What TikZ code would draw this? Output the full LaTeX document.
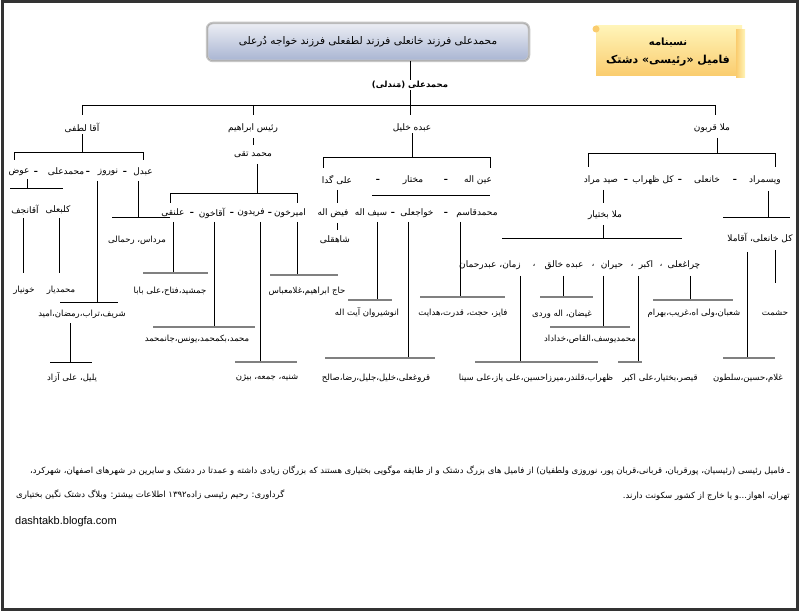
\documentclass[tikz,border=0pt]{standalone}
\usepackage{fontspec}
\setmainfont{Liberation Sans}
\newfontfamily\arabicfont[Script=Arabic]{DejaVu Sans}
\TeXXeTstate=1
\newcommand{\fa}[1]{\beginR#1\endR}
\definecolor{plaquetop}{RGB}{236,238,244}
\definecolor{plaquebot}{RGB}{168,180,210}
\definecolor{scrolltop}{RGB}{255,244,184}
\definecolor{scrollbot}{RGB}{250,204,110}
\tikzset{
  person/.style={font=\arabicfont\fontsize{9}{10}\selectfont, inner sep=1pt},
  tie/.style={font=\arabicfont\bfseries\fontsize{9}{10}\selectfont, inner sep=1pt},
  brood/.style={font=\arabicfont\fontsize{8.5}{10}\selectfont, inner sep=1pt},
  link/.style={line width=0.9pt},
  glink/.style={line width=1.3pt, draw=gray},
}

\begin{document}
\begin{tikzpicture}[x=1pt,y=-1pt]
    \useasboundingbox (0,0) rectangle (800,612);
    \fill[white] (0,0) rectangle (800,612);
    \draw[line width=3pt, draw=gray!40!black] (2,2) rectangle (797,609);

    % header
    \node[draw=gray!45, line width=2.5pt, rounded corners=6pt, minimum width=322pt, minimum height=38pt,
          top color=plaquetop, bottom color=plaquebot,
          font=\arabicfont\fontsize{10.5}{12}\selectfont] (title) at (368,42)
          {\fa{محمدعلی فرزند خانعلی فرزند لطفعلی فرزند خواجه دُرعلی}};
    \draw[gray!70, line width=0.5pt, rounded corners=5pt] ([shift={(1.5,-1.5)}]title.south west) rectangle ([shift={(-1.5,1.5)}]title.north east);
    \shade[top color=scrolltop, bottom color=scrollbot] (596,26) rectangle (742,76);
    \shade[left color=scrollbot, right color=scrolltop] (736,30) rectangle (745,78);
    \fill[scrollbot] (596,29) circle (3.5);
    \node[font=\arabicfont\bfseries\fontsize{10}{12}\selectfont] (nasab) at (668,43) {\fa{نسبنامه}};
    \node[font=\arabicfont\bfseries\fontsize{11}{13}\selectfont] (famil) at (668,61) {\fa{فامیل «رئیسی» دشتک}};

    \node[font=\arabicfont\bfseries\fontsize{8.5}{10}\selectfont, inner sep=1pt] (mandali) at (410,85) {\fa{محمدعلی (مَندلی)}};
    \draw[link] (410,61) -- (mandali.north);
    \draw[link] (mandali.south) -- (410,105);
    \draw[link] (82,105) -- (715,105);
    \foreach \x in {82,253,410,715}
        \draw[link] (\x,105) -- (\x,115);

    % sons
    \node[person] (aqa) at (82,128) {\fa{آقا لطفی}};
    \node[person] (rais) at (253,128) {\fa{رئیس ابراهیم}};
    \node[person] (abdeh) at (412,128) {\fa{عبده خلیل}};
    \node[person] (molla) at (712,128) {\fa{ملا قربون}};

    % aqa lotfi
    \draw[link] (aqa.south) -- (82,152);
    \draw[link] (14,160) -- (14,152) -- (143,152) -- (143,160);
    \node[person] (abdol) at (143,172) {\fa{عبدل}};
    \node[tie] (d1) at (125,172) {\fa{ـ}};
    \node[person] (nowruz) at (108,172) {\fa{نوروز}};
    \node[tie] (d2) at (88,172) {\fa{ـ}};
    \node[person] (mali) at (66,172) {\fa{محمدعلی}};
    \node[tie] (d3) at (36,172) {\fa{ـ}};
    \node[person] (avaz) at (19,172) {\fa{عوض}};
    \draw[link] (27,179) -- (27,188);
    \draw[link] (10,188) -- (63,188);
    \node[person] (najaf) at (25,210) {\fa{آقانجف}};
    \node[person] (kalb) at (58,210) {\fa{کلبعلی}};
    \draw[link] (23,218) -- (23,273);
    \draw[link] (59,218) -- (59,273);
    \node[brood] (khun) at (24,290) {\fa{خونیار}};
    \node[brood] (myar) at (61,290) {\fa{محمدیار}};
    \draw[link] (97,181) -- (97,302);
    \draw[link] (60,302) -- (118,302);
    \node[brood] (sharif) at (82,314) {\fa{شریف،تراب،رمضان،امید}};
    \draw[link] (70,323) -- (70,362);
    \draw[link] (50,362) -- (92,362);
    \node[brood] (yalil) at (72,378) {\fa{یلیل، علی آزاد}};
    \draw[link] (138,181) -- (138,217);
    \draw[link] (112,217) -- (170,217);
    \node[brood] (mardas) at (137,240) {\fa{مرداس، رحمالی}};

    % rais ebrahim
    \draw[link] (253,138) -- (253,145);
    \node[person] (taqi) at (253,155) {\fa{محمد تقی}};
    \draw[link] (257,164) -- (257,193);
    \draw[link] (170,203) -- (170,193) -- (297,193) -- (297,203);
    \node[person] (alnaqi) at (173,213) {\fa{علنقی}};
    \node[tie] (d4) at (192,213) {\fa{ـ}};
    \node[person] (aqakhun) at (212,213) {\fa{آقاخون}};
    \node[tie] (d5) at (232,213) {\fa{ـ}};
    \node[person] (fereydun) at (251,213) {\fa{فریدون}};
    \node[tie] (d6) at (270,213) {\fa{ـ}};
    \node[person] (amir) at (290,213) {\fa{امیرخون}};
    \draw[link] (173,222) -- (173,273);
    \draw[glink] (143,273) -- (208,273);
    \node[brood] (jamshid) at (170,291) {\fa{جمشید،فتاح،علی بابا}};
    \draw[link] (214,222) -- (214,327);
    \draw[glink] (153,327) -- (255,327);
    \node[brood] (yunes) at (197,339) {\fa{محمد،بکمحمد،یونس،جانمحمد}};
    \draw[link] (260,222) -- (260,362);
    \draw[glink] (235,362) -- (297,362);
    \node[brood] (shanbeh) at (267,378) {\fa{شنیه، جمعه، بیژن}};
    \draw[link] (297,222) -- (297,275);
    \draw[glink] (270,275) -- (338,275);
    \node[brood] (haj) at (307,291) {\fa{حاج ابراهیم،غلامعباس}};

    % abdeh khalil
    \draw[link] (abdeh.south) -- (412,157);
    \draw[link] (323,168) -- (323,157) -- (490,157) -- (490,168);
    \node[person] (einollah) at (478,180) {\fa{عین اله}};
    \node[tie] (d7) at (446,180) {\fa{ـ}};
    \node[person] (mokhtar) at (413,180) {\fa{مختار}};
    \node[tie] (d8) at (378,180) {\fa{ـ}};
    \node[person] (aligeda) at (337,180) {\fa{علی گدا}};
    \draw[link] (372,195) -- (490,195);
    \draw[link] (337,190) -- (337,203);
    \node[person] (feyz) at (333,213) {\fa{فیض اله}};
    \draw[link] (337,223) -- (337,230);
    \node[person] (shahqoli) at (335,240) {\fa{شاهقلی}};
    \node[person] (seyf) at (371,213) {\fa{سیف اله}};
    \node[tie] (d9) at (393,213) {\fa{ـ}};
    \node[person] (khajeh) at (417,213) {\fa{خواجعلی}};
    \node[tie] (d10) at (446,213) {\fa{ـ}};
    \node[person] (qasem) at (477,213) {\fa{محمدقاسم}};
    \draw[link] (377,222) -- (377,300);
    \draw[glink] (348,300) -- (392,300);
    \node[brood] (anushirvan) at (367,313) {\fa{انوشیروان  آیت اله}};
    \draw[link] (408,222) -- (408,358);
    \draw[glink] (325,358) -- (435,358);
    \node[brood] (qorugh) at (376,378) {\fa{قروغعلی،خلیل،جلیل،رضا،صالح}};
    \draw[link] (460,222) -- (460,297);
    \draw[glink] (420,297) -- (505,297);
    \node[brood] (fayez) at (463,313) {\fa{فایز، حجت، قدرت،هدایت}};

    % molla qorbun
    \draw[link] (717,138) -- (717,153);
    \draw[link] (588,167) -- (588,153) -- (775,153) -- (775,167);
    \node[person] (veys) at (765,180) {\fa{ویسمراد}};
    \node[tie] (d11) at (735,180) {\fa{ـ}};
    \node[person] (khanali) at (707,180) {\fa{خانعلی}};
    \node[tie] (d12) at (680,180) {\fa{ـ}};
    \node[person] (kolzohrab) at (653,180) {\fa{کل ظهراب}};
    \node[tie] (d13) at (626,180) {\fa{ـ}};
    \node[person] (seyd) at (601,180) {\fa{صید مراد}};
    \draw[link] (603,190) -- (603,203);
    \node[person] (bakhtiar) at (605,215) {\fa{ملا بختیار}};
    \draw[link] (603,225) -- (603,238);
    \draw[link] (502,238) -- (682,238);
    \node[person] (abdrahman) at (490,265) {\fa{زمان، عبدرحمان}};
    \node[person] (c1) at (534,265) {\fa{،}};
    \node[person] (khaleq) at (564,265) {\fa{عبده خالق}};
    \node[person] (c2) at (593,265) {\fa{،}};
    \node[person] (heyran) at (612,265) {\fa{حیران}};
    \node[person] (c3) at (632,265) {\fa{،}};
    \node[person] (akbar) at (646,265) {\fa{اکبر}};
    \node[person] (c4) at (661,265) {\fa{،}};
    \node[person] (cheragh) at (684,265) {\fa{چراغعلی}};
    \draw[link] (520,276) -- (520,362);
    \draw[glink] (475,362) -- (598,362);
    \node[brood] (zohrab) at (536,378) {\fa{ظهراب،قلندر،میرزاحسین،علی یاز،علی سینا}};
    \draw[link] (563,276) -- (563,297);
    \draw[glink] (540,297) -- (593,297);
    \node[brood] (gheyzan) at (562,314) {\fa{غیضان، اله وردی}};
    \draw[link] (603,276) -- (603,327);
    \draw[glink] (550,327) -- (630,327);
    \node[brood] (yusef) at (590,339) {\fa{محمدیوسف،القاص،خداداد}};
    \draw[link] (638,276) -- (638,362);
    \draw[glink] (618,362) -- (642,362);
    \node[brood] (qeysar) at (660,378) {\fa{قیصر،بختیار،علی اکبر}};
    \draw[link] (690,276) -- (690,300);
    \draw[glink] (653,300) -- (733,300);
    \node[brood] (shaban) at (694,313) {\fa{شعبان،ولی اه،غریب،بهرام}};
    \draw[link] (768,191) -- (768,217);
    \draw[link] (723,217) -- (790,217);
    \node[person] (kalkhan) at (760,238) {\fa{کل خانعلی، آقاملا}};
    \draw[link] (775,250) -- (775,283);
    \node[brood] (heshmat) at (775,313) {\fa{حشمت}};
    \draw[link] (747,252) -- (747,358);
    \draw[glink] (723,358) -- (775,358);
    \node[brood] (gholam) at (748,378) {\fa{غلام،حسین،سلطون}};

    % footer
    \node[brood, anchor=east] (note1) at (791,471)
        {\fa{ـ فامیل رئیسی (رئیسیان، پورقربان، قربانی،قربان پور، نوروزی ولطفیان) از فامیل های بزرگ دشتک و از طایفه موگویی بختیاری هستند که بزرگان زیادی داشته و عمدتا در دشتک و سایرین در شهرهای اصفهان، شهرکرد،}};
    \node[brood, anchor=east] (note2) at (791,496) {\fa{تهران، اهواز...و یا خارج از کشور سکونت دارند.}};
    \node[font=\arabicfont\fontsize{8.5}{10}\selectfont, inner sep=1pt, anchor=west] (credit) at (15,495)
        {\fa{گرداوری: رحیم رئیسی زاده\beginL۱۳۹۲\endL{} اطلاعات بیشتر: وبلاگ دشتک نگین بختیاری}};
    \node[font=\fontsize{11}{13}\selectfont, inner sep=0pt, anchor=west] (url) at (15,522) {dashtakb.blogfa.com};
\end{tikzpicture}
\end{document}
